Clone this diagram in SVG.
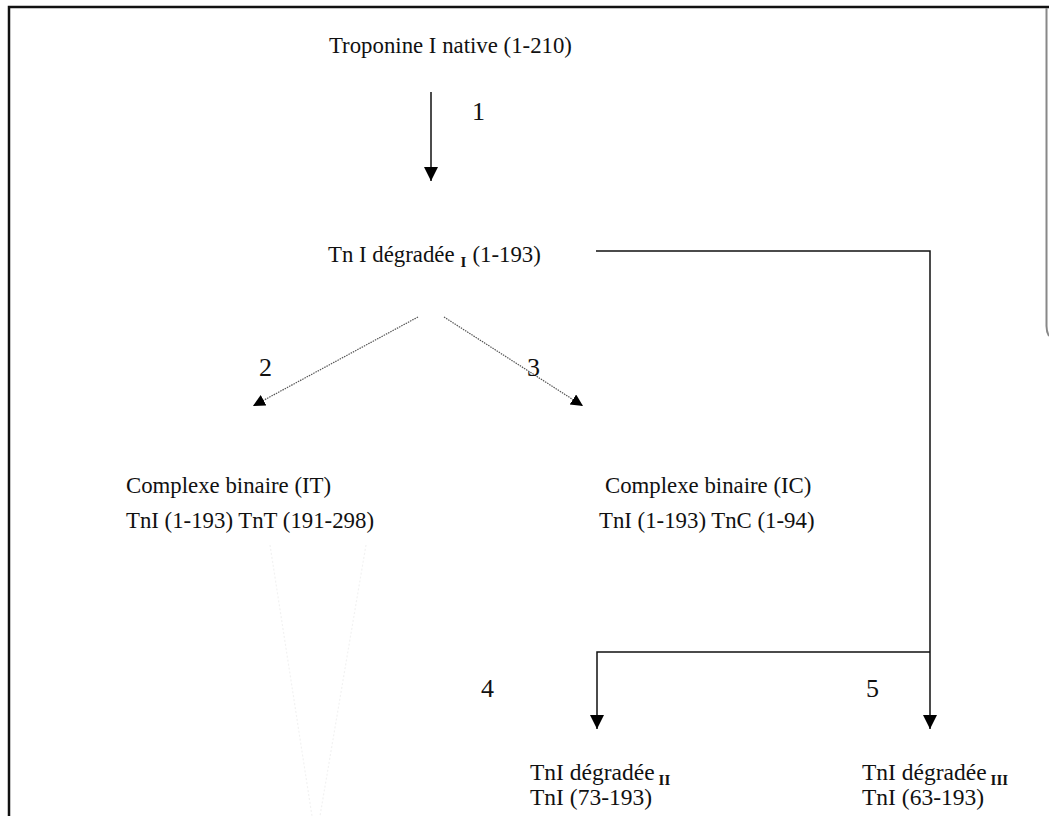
<svg xmlns="http://www.w3.org/2000/svg" width="1049" height="816" viewBox="0 0 1049 816">
<style>
text{font-family:"Liberation Serif","Times New Roman",serif;font-size:22.8px;fill:#111}
.sub{font-size:15px;font-weight:bold}
.num{font-size:26px}
.big{font-size:23.5px}
.ln{stroke:#111;stroke-width:1.5;fill:none}
.dot{stroke:#555;stroke-width:1.2;stroke-dasharray:1.5 1;fill:none}
</style>
<defs>
<marker id="ah" markerUnits="userSpaceOnUse" markerWidth="16" markerHeight="16" refX="14" refY="7" orient="auto"><path d="M0,0 L14,7 L0,14 Z" fill="#000"/></marker>
<marker id="ahs" markerUnits="userSpaceOnUse" markerWidth="16" markerHeight="16" refX="12" refY="6" orient="auto"><path d="M0,0 L12,6 L0,12 Z" fill="#000"/></marker>
</defs>
<rect width="1049" height="816" fill="#fff"/>
<g id="frame">
<path d="M9,816 V7 H1049" stroke="#111" stroke-width="2.5" fill="none"/>
<path d="M1046.5,8 V326 Q1046.5,332 1049,336" stroke="#888" stroke-width="2" fill="none"/>
<path d="M270,545 L312,816 M366,545 L320,816" stroke="#f2f2f2" stroke-width="1.2" stroke-dasharray="2 2" fill="none"/>
</g>
<g id="connectors">
<line class="ln" x1="431" y1="92" x2="431" y2="181" marker-end="url(#ah)"/>
<path class="dot" d="M418,317 L253,406" marker-end="url(#ahs)"/>
<path class="dot" d="M444,317 L583,406" marker-end="url(#ahs)"/>
<path class="ln" d="M596,251 H930 V729" marker-end="url(#ah)"/>
<path class="ln" d="M930,652 H597 V729" marker-end="url(#ah)"/>
<text class="num" x="472" y="120">1</text>
<text class="num" x="259" y="376">2</text>
<text class="num" x="527" y="376">3</text>
<text class="num" x="481" y="697">4</text>
<text class="num" x="866" y="697">5</text>
</g>
<g id="n-native"><text x="329" y="53">Troponine I native (1-210)</text></g>
<g id="n-deg1"><text x="328" y="262">Tn I dégradée<tspan class="sub" dx="6" dy="5">I</tspan><tspan dx="6" dy="-5">(1-193)</tspan></text></g>
<g id="n-it"><text x="126" y="493">Complexe binaire (IT)</text><text x="126" y="528">TnI (1-193) TnT (191-298)</text></g>
<g id="n-ic"><text x="605" y="493">Complexe binaire (IC)</text><text x="599" y="528">TnI (1-193) TnC (1-94)</text></g>
<g id="n-deg2"><text class="big" x="530" y="780">TnI dégradée<tspan class="sub" dx="4" dy="5">II</tspan></text><text class="big" x="530" y="805">TnI (73-193)</text></g>
<g id="n-deg3"><text class="big" x="862" y="780">TnI dégradée<tspan class="sub" dx="4" dy="5">III</tspan></text><text class="big" x="862" y="805">TnI (63-193)</text></g>
</svg>
